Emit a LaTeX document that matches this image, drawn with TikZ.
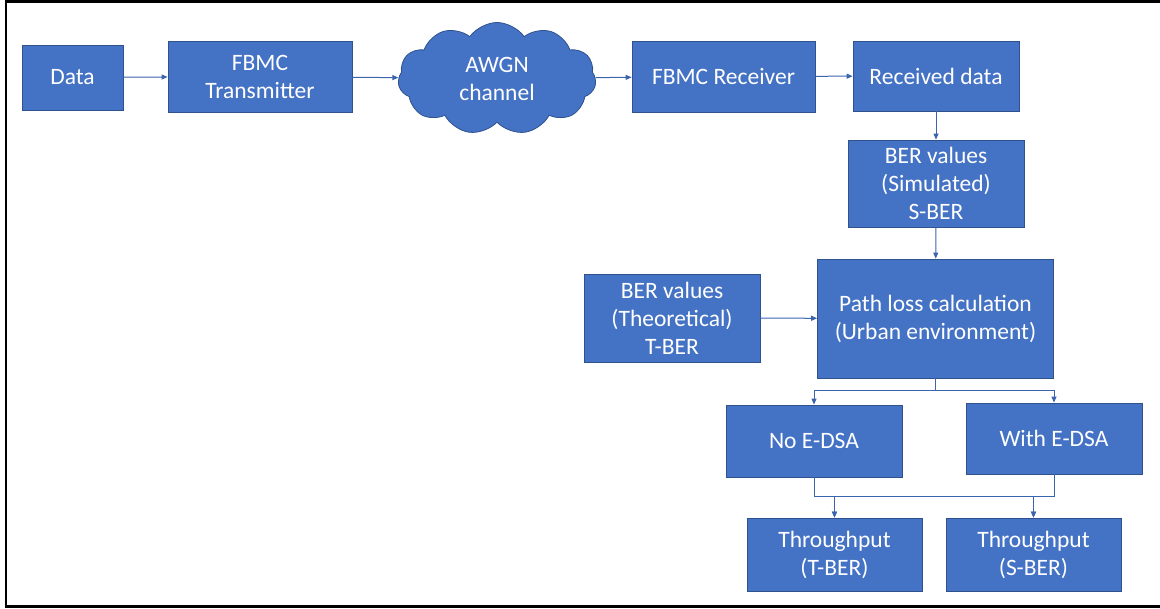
\documentclass[tikz,border=0pt]{standalone}
\usepackage{fontspec}
\setmainfont{Carlito}
\usetikzlibrary{arrows.meta,shapes.symbols}
\definecolor{boxblue}{HTML}{4472C4}
\definecolor{edgeblue}{HTML}{2F528F}
\definecolor{linkblue}{HTML}{3B64AD}

\begin{document}
\begin{tikzpicture}[x=1pt,y=-1pt,
  block/.style={draw=edgeblue,fill=boxblue,line width=0.8pt,text=white,align=center,
    font=\fontsize{23.5}{28}\selectfont,inner sep=2pt},
  channel/.style={cloud,cloud puffs=11,cloud puff arc=110,aspect=1.8,draw=edgeblue,fill=boxblue,
    line width=0.8pt,text=white,align=center,font=\fontsize{23.5}{28}\selectfont,inner sep=0pt},
  link/.style={draw=linkblue,line width=1pt,-{Triangle[length=6pt,width=5pt]}}]

  \useasboundingbox (0,0) rectangle (1160,609);

  % Frame (right side cut off)
  \draw[line width=2.5pt] (1160,1.5) -- (6,1.5) -- (6,606.5) -- (1160,606.5);

  % Transmit chain
  \node[block,minimum width=101,minimum height=65] (data) at (72.5,77.5) {Data};
  \node[block,minimum width=184,minimum height=71] (tx) at (260,76.5) {FBMC\\Transmitter};
  \node[channel,minimum width=198,minimum height=112] (awgn) at (497,78.5) {AWGN\\channel};
  \node[block,minimum width=183,minimum height=71] (rx) at (723.5,76.5) {FBMC Receiver};
  \node[block,minimum width=166,minimum height=70] (rcvd) at (936,76) {Received data};

  % BER values
  \node[block,minimum width=176,minimum height=87] (sber) at (936,183.5) {BER values\\(Simulated)\\S-BER};
  \node[block,minimum width=176,minimum height=88] (tber) at (672,318) {BER values\\(Theoretical)\\T-BER};
  \node[block,minimum width=236,minimum height=119] (ploss) at (935.5,318.5) {Path loss calculation\\(Urban environment)};

  % Cases
  \node[block,minimum width=176,minimum height=72] (noedsa) at (814,441) {No E-DSA};
  \node[block,minimum width=176,minimum height=71] (wedsa) at (1054,438.5) {With E-DSA};

  % Throughput
  \node[block,minimum width=175,minimum height=73] (tputt) at (834.5,554.5) {Throughput\\(T-BER)};
  \node[block,minimum width=175,minimum height=73] (tputs) at (1033.5,554.5) {Throughput\\(S-BER)};

  % Connectors
  \draw[link] (data) -- (tx);
  \draw[link] (tx) -- (awgn);
  \draw[link] (awgn) -- (rx);
  \draw[link] (rx) -- (rcvd);
  \draw[link] (rcvd) -- (sber);
  \draw[link] (sber) -- (ploss);
  \draw[link] (tber) -- (ploss);

  \draw[link] (ploss.south) -- (ploss.south |- 0,391) -| (noedsa.north);
  \draw[link] (ploss.south) -- (ploss.south |- 0,391) -| (wedsa.north);

  \foreach \src in {noedsa,wedsa}
    \foreach \dst in {tputt,tputs}
      \draw[link] (\src.south) -- (\src.south |- 0,497) -| (\dst.north);

\end{tikzpicture}
\end{document}
